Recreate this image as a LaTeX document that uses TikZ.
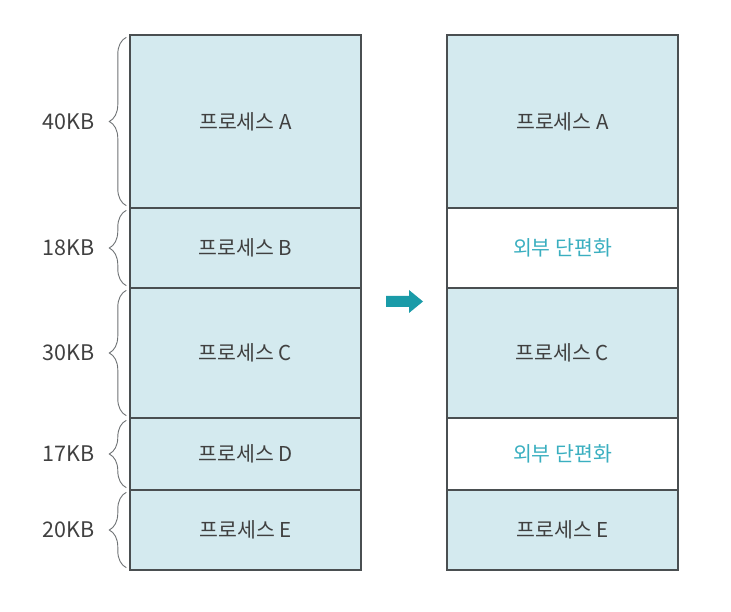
\documentclass[tikz,border=0pt]{standalone}
\usepackage{fontspec}
\setmainfont{Noto Sans CJK KR}
\usetikzlibrary{decorations.pathreplacing}
\definecolor{memfill}{HTML}{D4EAEF}
\definecolor{memline}{HTML}{4A4F51}
\definecolor{memtext}{HTML}{404040}
\definecolor{fragtext}{HTML}{3AAFC0}
\definecolor{arrowteal}{HTML}{1A9BA8}
\tikzset{
    blk/.style={draw=memline, line width=1.4pt, fill=memfill, minimum width=231pt,
        inner sep=0pt, text=memtext, font=\fontsize{20.5}{24}\selectfont},
    frag/.style={blk, fill=white, text=fragtext},
    brc/.style={draw=memline!80, line width=0.9pt, decorate,
        decoration={brace, mirror, amplitude=17pt}},
    sizelbl/.style={anchor=east, inner sep=0pt, text=memtext, font=\fontsize{21.5}{25}\selectfont}
}
\begin{document}
\begin{tikzpicture}[x=1pt, y=-1pt]
\useasboundingbox (0,0) rectangle (731,612);

% memory before compaction (left) and after (right)
\foreach \n/\t/\b/\s/\lbl/\rgt/\sty in {A/35/208/40KB/프로세스 A/프로세스 A/blk,
    B/208/288/18KB/프로세스 B/외부 단편화/frag,
    C/288/418/30KB/프로세스 C/프로세스 C/blk,
    D/418/490/17KB/프로세스 D/외부 단편화/frag,
    E/490/570/20KB/프로세스 E/프로세스 E/blk}
{
    \node[blk, minimum height=\b-\t] (l\n) at (245.5,{(\t+\b)/2}) {\lbl};
    \node[\sty, minimum height=\b-\t] (r\n) at (562.5,{(\t+\b)/2}) {\rgt};
    \draw[brc] ([xshift=-3pt,yshift=-3pt]l\n.north west) -- ([xshift=-3pt,yshift=3pt]l\n.south west)
        node[midway, sizelbl, xshift=-31pt]{\s};
}

% arrow between the two columns
\fill[arrowteal] (386,296) -- (409,296) -- (409,290) -- (423,301.5) -- (409,313)
    -- (409,307) -- (386,307) -- cycle;
\end{tikzpicture}
\end{document}
